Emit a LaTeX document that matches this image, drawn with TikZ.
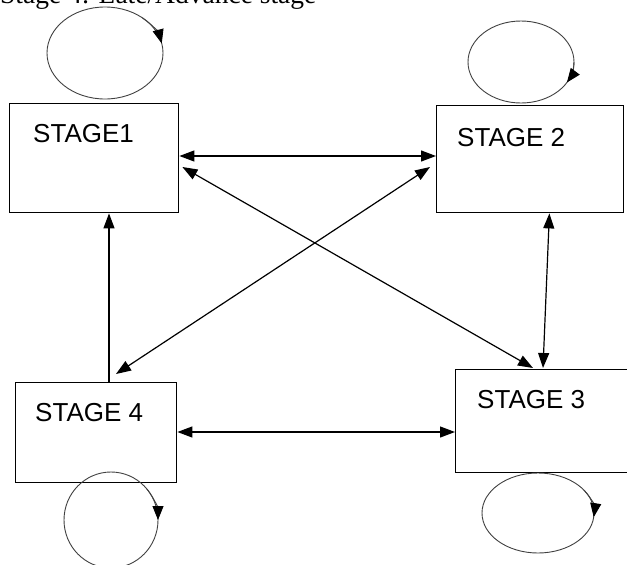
\documentclass[tikz,border=0pt]{standalone}
\usepackage{fontspec}
\setmainfont{Liberation Serif}
\newfontfamily\stagefont{Liberation Sans}
\usetikzlibrary{arrows.meta,calc}

\begin{document}
\begin{tikzpicture}[x=1pt,y=-1pt,
    >={Triangle[length=15pt,width=11pt]},
    stagebox/.style={draw,line width=1.4pt,inner sep=0pt,anchor=north west},
    stagename/.style={anchor=base west,inner sep=0pt,font=\stagefont\fontsize{26}{30}\selectfont},
    link/.style={line width=1.2pt},
    selfloop/.style={line width=0.9pt,draw=black!75}]
    \useasboundingbox (0,0) rectangle (627,565);

    % caption line, cut by the top edge
    \node[anchor=base west,inner sep=0pt,font=\fontsize{27.5}{30}\selectfont] (title) at (0,3) {Stage 4: Late/Advance stage};

    % the four stages
    \node[stagebox,minimum width=169,minimum height=109] (s1) at (9,103) {};
    \node[stagebox,minimum width=187,minimum height=107] (s2) at (436,105) {};
    \node[stagebox,minimum width=190,minimum height=103] (s3) at (455,369) {};
    \node[stagebox,minimum width=161,minimum height=100] (s4) at (15,382) {};

    \node[stagename] (t1) at (33,142) {STAGE1};
    \node[stagename] (t2) at (457,146) {STAGE 2};
    \node[stagename] (t3) at (477,408) {STAGE 3};
    \node[stagename] (t4) at (35,421) {STAGE 4};

    % a loop on each stage
    \foreach \x/\y/\rx/\ry/\a/\b in {105/53/58/46/-50/-12, 521/62/53/41/0/30, 538/513/56/40/-35/6, 111/520/47/48/-40/0} {
        \draw[selfloop] (\x,\y) ellipse ({\rx} and {\ry});
        \draw[selfloop,-{Triangle[length=14pt,width=11pt,color=black]}] ($(\x,\y)+(\a:{\rx} and {\ry})$) arc (\a:\b:{\rx} and {\ry});
    }

    % moves between stages
    \draw[link,<->] ($(s1.north east)+(0,53)$) -- ($(s2.north west)+(0,51)$);
    \draw[link,<->] ($(s1.north east)+(3,64)$) -- ($(s3.north west)+(78,-1)$);
    \draw[link,<->] ($(s2.north west)+(-6,62)$) -- ($(s4.north west)+(101,-8)$);
    \draw[link,<->] ($(s2.south east)+(-75,0)$) -- ($(s3.north west)+(88,-1)$);
    \draw[link,->] ($(s4.north west)+(94,0)$) -- ($(s1.south west)+(100,0)$);
    \draw[link,<->] ($(s4.north east)+(0,50)$) -- ($(s3.north west)+(0,63)$);
\end{tikzpicture}
\end{document}
